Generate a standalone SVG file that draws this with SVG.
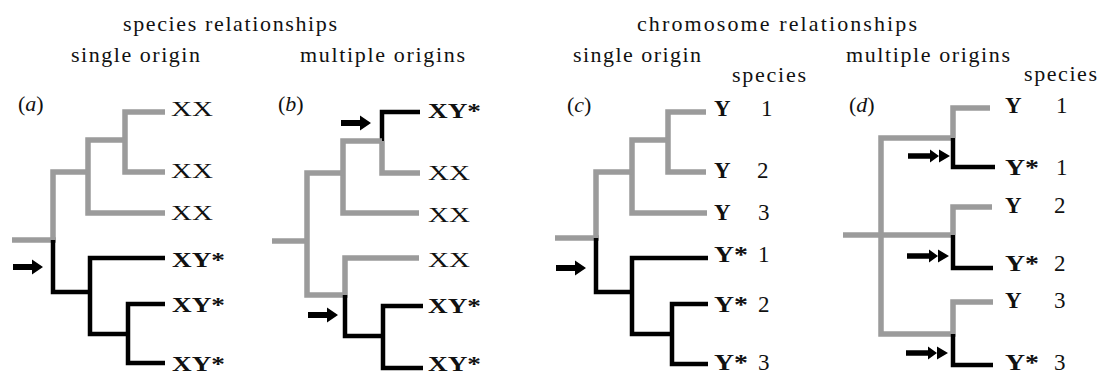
<svg xmlns="http://www.w3.org/2000/svg" xmlns:xlink="http://www.w3.org/1999/xlink" width="1101" height="375" viewBox="0 0 1101 375">
  <style>
    text { font-family: "Liberation Serif", "Times New Roman", serif; fill: #111; }
    .title { font-size: 22px; }
    .panel { font-size: 22px; }
    .xx { font-size: 22px; }
    .xy { font-size: 22px; font-weight: bold; }
    .y { font-size: 23px; font-weight: bold; }
    .num { font-size: 23px; }
    .gray { fill: none; stroke: #9b9b9b; stroke-width: 5.5; stroke-linejoin: miter; stroke-linecap: butt; }
    .black { fill: none; stroke: #000; stroke-width: 4.5; stroke-linejoin: miter; stroke-linecap: butt; }
  </style>
  <defs>
    <!-- single-headed arrow, tip at (30,0) -->
    <path id="arrow1" d="M0,-3 H19 V-7.5 L30,0 L19,7.5 V3 H0 Z" fill="#000"/>
    <!-- double-headed (tandem) arrow, tip at (42,0) -->
    <path id="arrow2" d="M0,-2.8 H22 V-6.5 L31,0 V-6.5 L42,0 L31,6.5 V0 L22,6.5 V2.8 H0 Z" fill="#000"/>
  </defs>
  <rect width="1101" height="375" fill="#fff"/>

  <!-- headings -->
  <g id="headings">
    <text class="title" x="123" y="31" textLength="214">species relationships</text>
    <text class="title" x="637" y="31" textLength="280">chromosome relationships</text>
    <text class="title" x="71" y="62" textLength="129">single origin</text>
    <text class="title" x="300" y="62" textLength="165">multiple origins</text>
    <text class="title" x="573" y="62" textLength="128">single origin</text>
    <text class="title" x="732" y="82" textLength="74">species</text>
    <text class="title" x="846" y="62" textLength="164">multiple origins</text>
    <text class="title" x="1024" y="81" textLength="73">species</text>
  </g>

  <!-- connectors: tree branches and origin arrows -->
  <g id="connectors">
    <!-- panel a -->
    <path class="gray" d="M165,112 H125 V172 H165"/>
    <path class="gray" d="M125,140 H88 V213 H165"/>
    <path class="gray" d="M88,172 H53 V240"/>
    <path class="gray" d="M12,240 H56"/>
    <path class="black" d="M53,240 V292 H90"/>
    <path class="black" d="M165,258 H90 V334 H128"/>
    <path class="black" d="M165,304 H128 V363 H165"/>
    <use xlink:href="#arrow1" href="#arrow1" transform="translate(13,267)"/>

    <!-- panel b -->
    <path class="black" d="M420,112 H382 V141"/>
    <path class="gray" d="M420,173 H382 V141"/>
    <path class="gray" d="M382,141 H343 V213 H419"/>
    <path class="gray" d="M343,173 H307 V295 H345 V258 H419"/>
    <path class="gray" d="M272,241 H308"/>
    <path class="black" d="M345,295 V336 H383"/>
    <path class="black" d="M423,306 H383 V368 H423"/>
    <use xlink:href="#arrow1" href="#arrow1" transform="translate(341,123)"/>
    <use xlink:href="#arrow1" href="#arrow1" transform="translate(308,315)"/>

    <!-- panel c -->
    <path class="gray" d="M706,112 H668 V172 H706"/>
    <path class="gray" d="M668,140 H632 V213 H707"/>
    <path class="gray" d="M632,172 H596 V238"/>
    <path class="gray" d="M555,238 H599"/>
    <path class="black" d="M596,238 V292 H632"/>
    <path class="black" d="M708,258 H632 V334 H672"/>
    <path class="black" d="M708,304 H672 V364 H708"/>
    <use xlink:href="#arrow1" href="#arrow1" transform="translate(556,268)"/>

    <!-- panel d -->
    <path class="gray" d="M990,108 H953 V138"/>
    <path class="gray" d="M953,138 H881 V334 H953 V302 H993"/>
    <path class="gray" d="M992,207 H953 V235"/>
    <path class="gray" d="M843,235 H955"/>
    <path class="black" d="M953,138 V167 H995"/>
    <path class="black" d="M953,235 V268 H993"/>
    <path class="black" d="M953,334 V365 H993"/>
    <use xlink:href="#arrow2" href="#arrow2" transform="translate(908,156)"/>
    <use xlink:href="#arrow2" href="#arrow2" transform="translate(907,256)"/>
    <use xlink:href="#arrow2" href="#arrow2" transform="translate(906,353)"/>
  </g>

  <!-- panel a: species tree, single origin -->
  <g id="panel-a">
    <text class="panel" x="18" y="111">(<tspan font-style="italic">a</tspan>)</text>
    <g id="a-leaf1"><text class="xx" x="171" y="116" textLength="42" lengthAdjust="spacingAndGlyphs">XX</text></g>
    <g id="a-leaf2"><text class="xx" x="171" y="178" textLength="42" lengthAdjust="spacingAndGlyphs">XX</text></g>
    <g id="a-leaf3"><text class="xx" x="171" y="220" textLength="42" lengthAdjust="spacingAndGlyphs">XX</text></g>
    <g id="a-leaf4"><text class="xy" x="172" y="267" textLength="53" lengthAdjust="spacingAndGlyphs">XY*</text></g>
    <g id="a-leaf5"><text class="xy" x="172" y="312" textLength="53" lengthAdjust="spacingAndGlyphs">XY*</text></g>
    <g id="a-leaf6"><text class="xy" x="172" y="371" textLength="53" lengthAdjust="spacingAndGlyphs">XY*</text></g>
  </g>

  <!-- panel b: species tree, multiple origins -->
  <g id="panel-b">
    <text class="panel" x="278" y="111">(<tspan font-style="italic">b</tspan>)</text>
    <g id="b-leaf1"><text class="xy" x="428" y="118" textLength="53" lengthAdjust="spacingAndGlyphs">XY*</text></g>
    <g id="b-leaf2"><text class="xx" x="428" y="180" textLength="42" lengthAdjust="spacingAndGlyphs">XX</text></g>
    <g id="b-leaf3"><text class="xx" x="428" y="222" textLength="42" lengthAdjust="spacingAndGlyphs">XX</text></g>
    <g id="b-leaf4"><text class="xx" x="428" y="267" textLength="42" lengthAdjust="spacingAndGlyphs">XX</text></g>
    <g id="b-leaf5"><text class="xy" x="428" y="313" textLength="53" lengthAdjust="spacingAndGlyphs">XY*</text></g>
    <g id="b-leaf6"><text class="xy" x="428" y="371" textLength="53" lengthAdjust="spacingAndGlyphs">XY*</text></g>
  </g>

  <!-- panel c: chromosome tree, single origin -->
  <g id="panel-c">
    <text class="panel" x="567" y="112">(<tspan font-style="italic">c</tspan>)</text>
    <g id="c-leaf1"><text class="y" x="714" y="116">Y</text><text class="num" x="761" y="116">1</text></g>
    <g id="c-leaf2"><text class="y" x="714" y="178">Y</text><text class="num" x="757" y="178">2</text></g>
    <g id="c-leaf3"><text class="y" x="714" y="220">Y</text><text class="num" x="758" y="220">3</text></g>
    <g id="c-leaf4"><text class="y" x="714" y="262" textLength="34" lengthAdjust="spacingAndGlyphs">Y*</text><text class="num" x="758" y="262">1</text></g>
    <g id="c-leaf5"><text class="y" x="714" y="312" textLength="34" lengthAdjust="spacingAndGlyphs">Y*</text><text class="num" x="758" y="312">2</text></g>
    <g id="c-leaf6"><text class="y" x="714" y="370" textLength="34" lengthAdjust="spacingAndGlyphs">Y*</text><text class="num" x="758" y="370">3</text></g>
  </g>

  <!-- panel d: chromosome tree, multiple origins -->
  <g id="panel-d">
    <text class="panel" x="849" y="112">(<tspan font-style="italic">d</tspan>)</text>
    <g id="d-leaf1"><text class="y" x="1005" y="113">Y</text><text class="num" x="1056" y="113">1</text></g>
    <g id="d-leaf2"><text class="y" x="1005" y="175" textLength="34" lengthAdjust="spacingAndGlyphs">Y*</text><text class="num" x="1056" y="175">1</text></g>
    <g id="d-leaf3"><text class="y" x="1005" y="213">Y</text><text class="num" x="1054" y="213">2</text></g>
    <g id="d-leaf4"><text class="y" x="1005" y="271" textLength="34" lengthAdjust="spacingAndGlyphs">Y*</text><text class="num" x="1054" y="271">2</text></g>
    <g id="d-leaf5"><text class="y" x="1005" y="308">Y</text><text class="num" x="1054" y="308">3</text></g>
    <g id="d-leaf6"><text class="y" x="1005" y="370" textLength="34" lengthAdjust="spacingAndGlyphs">Y*</text><text class="num" x="1054" y="370">3</text></g>
  </g>
</svg>
